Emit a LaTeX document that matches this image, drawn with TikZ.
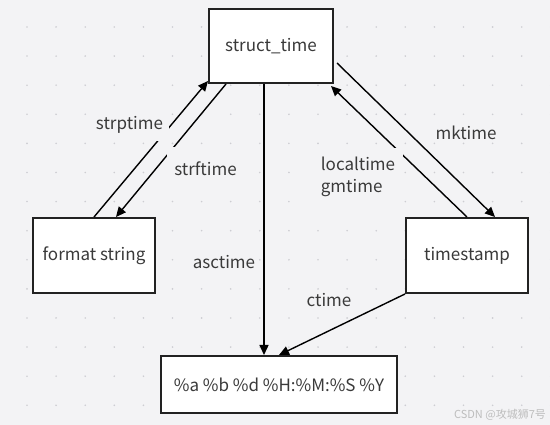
\documentclass[tikz,border=0pt]{standalone}
\usepackage{fontspec}
\setmainfont{Noto Sans CJK SC}
\usetikzlibrary{arrows.meta, calc}
\definecolor{gridbg}{HTML}{F3F3F5}
\definecolor{griddot}{HTML}{CDCDD2}
\definecolor{boxline}{HTML}{222222}
\definecolor{labeltext}{HTML}{3A3A3A}
\definecolor{wmgray}{HTML}{BDBDBD}

\begin{document}
\begin{tikzpicture}[x=1pt,y=-1pt,font=\fontsize{17}{21.5}\selectfont,
    box/.style={draw=boxline,line width=2pt,fill=white,text=labeltext,inner sep=0pt},
    conv/.style={-{Triangle[length=10pt,width=9pt]},line width=1.4pt,black},
    lbl/.style={fill=gridbg,text=labeltext,inner sep=1pt}]
      \fill[gridbg] (0,0) rectangle (550,425);
      \useasboundingbox (0,0) rectangle (550,425);
      \foreach \i in {0,...,18}
        \foreach \j in {0,...,13}
          \fill[griddot] (27+29.1*\i,27+29.1*\j) circle (0.9pt);
      % boxes
      \node[box,minimum width=124pt,minimum height=74pt] (st) at (271,46) {struct\_time};
      \node[box,minimum width=122pt,minimum height=75pt] (fmt) at (94,255.5) {format string};
      \node[box,minimum width=122pt,minimum height=75pt] (ts) at (467,255.5) {timestamp};
      \node[box,minimum width=236pt,minimum height=57pt] (out) at (279,384.5) {\%a \%b \%d \%H:\%M:\%S \%Y};
      % conversions
      \draw[conv] (fmt.north) -- ([yshift=3pt]st.south west);
      \draw[conv] ([xshift=18pt]st.south west) -- ([xshift=22pt]fmt.north);
      \draw[conv] ([shift={(3pt,-17pt)}]st.east) -- ([xshift=28pt]ts.north);
      \draw[conv] (ts.north) -- ([shift={(-3pt,-2pt)}]st.south east);
      \draw[conv] ([xshift=-7pt]st.south) -- ([xshift=-15pt]out.north);
      \draw[conv] (ts.south west) -- (out.north);
      % labels
      \node[lbl,minimum width=79pt,minimum height=32pt] (lpt) at (129.5,125) {strptime};
      \node[lbl,minimum width=77pt,minimum height=44pt] (lft) at (205.5,169) {strftime};
      \node[lbl,minimum width=90pt,minimum height=58pt,align=left] (lloc) at (358,177) {localtime\\gmtime};
      \node[lbl] (lmk) at (466,133) {mktime};
      \node[lbl] (lasc) at (224,262) {asctime};
      \node[lbl] (lct) at (329,300) {ctime};
      \node[text=wmgray,font=\fontsize{11}{11}\selectfont] (wm) at (500,415) {CSDN @攻城狮7号};
\end{tikzpicture}
\end{document}
